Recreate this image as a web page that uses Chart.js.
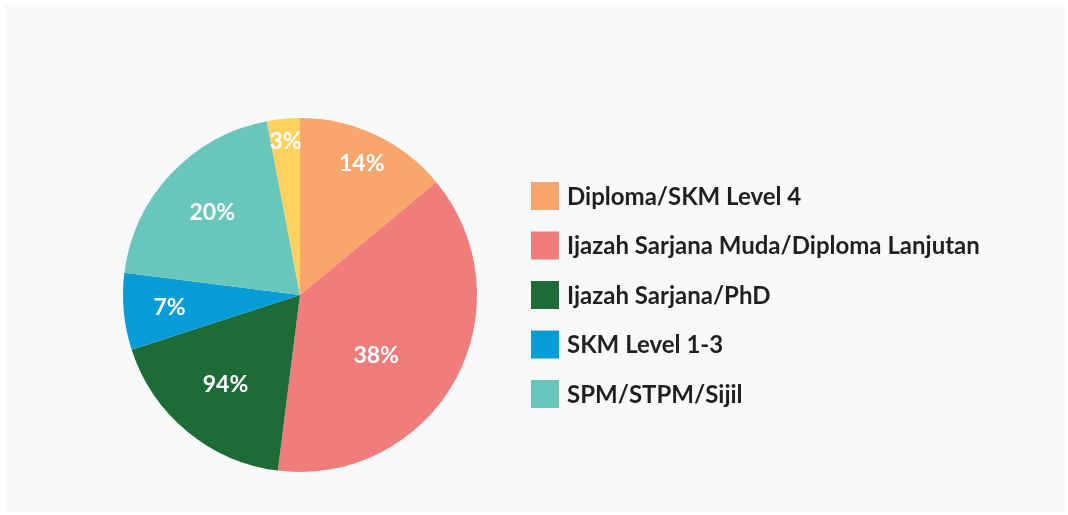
<!DOCTYPE html>
<html>
<head>
<meta charset="utf-8">
<script src="https://cdn.jsdelivr.net/npm/chart.js@4"></script>
<style>
    html, body { margin: 0; padding: 0; background: #ffffff; }
    #panel { position: absolute; left: 5px; top: 4px; width: 1060px; height: 508px; background: #f8f9fb; }
    #wrap { position: absolute; left: 0; top: 0; width: 1068px; height: 515px; }
</style>
</head>
<body>
<div id="panel"></div>
<div id="wrap"><canvas id="chart"></canvas></div>
<script>
const categories = ['Diploma/SKM Level 4', 'Ijazah Sarjana Muda/Diploma Lanjutan', 'Ijazah Sarjana/PhD', 'SKM Level 1-3', 'SPM/STPM/Sijil', ''];
const values = [14, 38, 18, 7, 20, 3];
const sliceLabels = ['14%', '38%', '94%', '7%', '20%', '3%'];
const colors = ['#f9a66c', '#f17c7c', '#1d6b37', '#069dd6', '#69c6bb', '#ffd15e'];

document.addEventListener('DOMContentLoaded', function() {
    showChart();
});

// white percentage text inside each slice
const sliceText = {
    id: 'sliceText',
    afterDatasetsDraw(chart, args, opts) {
        const ctx = chart.ctx;
        const meta = chart.getDatasetMeta(0);
        ctx.save();
        ctx.fillStyle = '#ffffff';
        ctx.font = 'bold 23px Lato';
        ctx.textAlign = 'center';
        ctx.textBaseline = 'middle';
        meta.data.forEach(function(arc, i) {
            const p = arc.getProps(['x', 'y', 'startAngle', 'endAngle', 'outerRadius'], true);
            const mid = (p.startAngle + p.endAngle) / 2 + opts.shift[i];
            const r = p.outerRadius * opts.fractions[i];
            ctx.fillText(sliceLabels[i], p.x + Math.cos(mid) * r, p.y + Math.sin(mid) * r);
        });
        ctx.restore();
    }
};

// legend drawn beside the pie (built-in one gets clipped at this width)
const sideLegend = {
    id: 'sideLegend',
    afterDraw(chart, args, opts) {
        const ctx = chart.ctx;
        const fills = chart.data.datasets[0].backgroundColor;
        const items = chart.data.labels
            .map((text, i) => ({ text: text, fill: fills[i] }))
            .filter(item => item.text !== '');
        const area = chart.chartArea;
        const x = area.right + opts.gap;
        const top = (area.top + area.bottom) / 2 - (items.length - 1) * opts.rowHeight / 2;
        ctx.save();
        ctx.font = 'bold 24px Lato';
        ctx.textBaseline = 'middle';
        ctx.textAlign = 'left';
        items.forEach(function(item, i) {
            const y = top + i * opts.rowHeight;
            ctx.fillStyle = item.fill;
            ctx.fillRect(x, y - opts.box / 2, opts.box, opts.box);
            ctx.fillStyle = '#231f20';
            ctx.fillText(item.text, x + opts.box + 8, y + 1);
        });
        ctx.restore();
    }
};

function showChart() {
    const canvasChart = document.getElementById('chart').getContext('2d');
    new Chart(canvasChart, {
        type: 'pie',
        data: {
            labels: categories,
            datasets: [
                {
                    data: values,
                    backgroundColor: colors,
                    borderWidth: 0
                }
            ]
        },
        options: {
            responsive: true,
            maintainAspectRatio: false,
            animation: false,
            layout: {
                padding: { left: 122, right: 590, top: 118, bottom: 43 }
            },
            plugins: {
                tooltip: { enabled: false },
                legend: { display: false },
                sliceText: {
                    fractions: [0.82, 0.55, 0.66, 0.74, 0.68, 0.87],
                    shift: [0, 0.17, 0, 0, 0, 0]
                },
                sideLegend: { gap: 53, rowHeight: 49.5, box: 28 }
            }
        },
        plugins: [sliceText, sideLegend]
    });
}
</script>
</body>
</html>
